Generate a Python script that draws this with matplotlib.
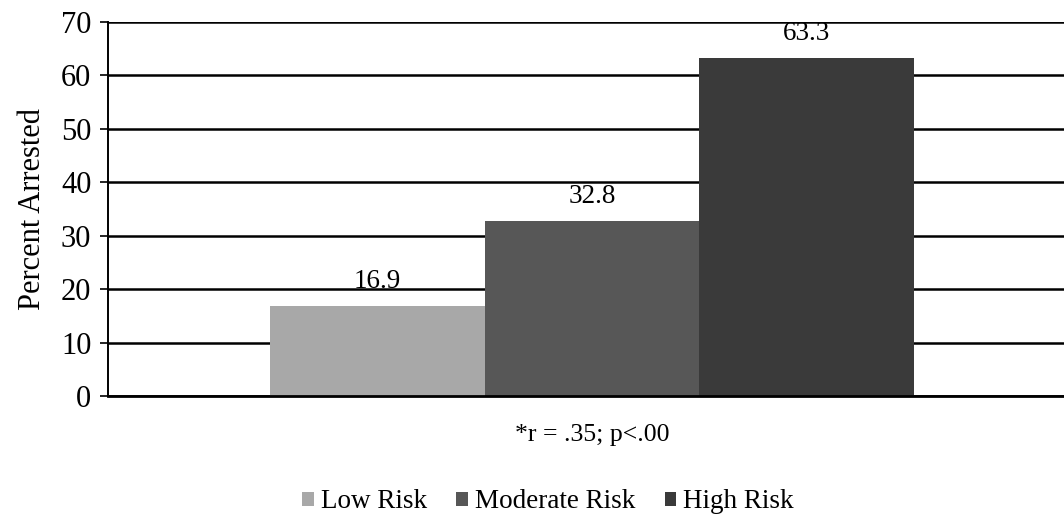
import numpy as np
import matplotlib
matplotlib.use("Agg")
import matplotlib.pyplot as plt

plt.rcParams['font.family'] = ['Liberation Serif', 'DejaVu Serif']

groups = ["Low Risk", "Moderate Risk", "High Risk"]
pct_arrested = [16.9, 32.8, 63.3]
colors = ["#a8a8a8", "#575757", "#3a3a3a"]
stat_note = "*r = .35; p<.00"

FS = 19.5
W, H = 1064, 515

fig = plt.figure(figsize=(W / 100, H / 100), dpi=100)
ax = fig.add_axes([108 / W, 1 - 396 / H, (1076 - 108) / W, 374 / H])

width = 0.222
offsets = (np.arange(len(groups)) - 1) * width
for off, val, col, name in zip(offsets, pct_arrested, colors, groups):
    ax.bar(off, val, width=width, color=col, label=name, linewidth=0)
    ax.text(off, val + 2.2, f"{val:.1f}", ha="center", va="bottom", fontsize=FS)

ax.set_xlim(-0.5, 0.5)
ax.set_ylim(0, 70)
ax.set_yticks(range(0, 71, 10))
ax.set_xticks([])
ax.set_axisbelow(True)
ax.yaxis.grid(True, color="black", linewidth=1.8)

for s in ["top", "right"]:
    ax.spines[s].set_visible(False)
ax.spines["left"].set_linewidth(1.4)
ax.spines["bottom"].set_linewidth(2.0)
ax.tick_params(axis="y", labelsize=22, length=6, width=1.2, pad=6)

ax.set_ylabel("Percent Arrested", fontsize=22, labelpad=10)
ax.set_xlabel(stat_note, fontsize=18.5)
ax.xaxis.set_label_coords(0.5, -0.075)

fig.legend(loc="center", bbox_to_anchor=(548 / W, 1 - 502 / H), ncol=3,
           frameon=False, fontsize=FS, handlelength=0.42, handleheight=0.42,
           handletextpad=0.25, columnspacing=1.1)

fig.savefig("out.png", dpi=100)
